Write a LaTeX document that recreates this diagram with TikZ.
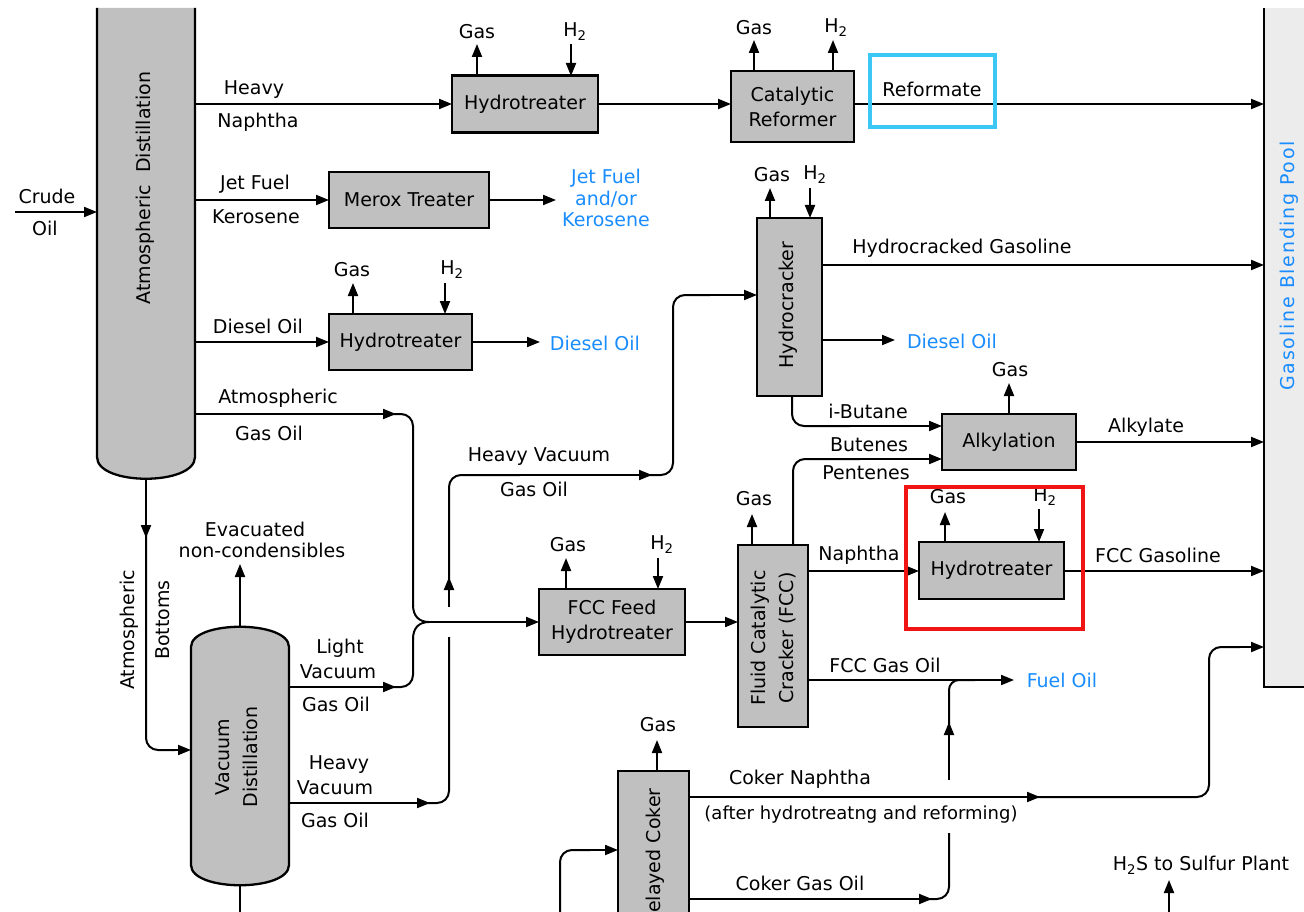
\documentclass[tikz,border=0pt]{standalone}
\usepackage{fontspec}
\setmainfont{DejaVu Sans}
\usetikzlibrary{arrows.meta}
\definecolor{boxgray}{RGB}{192,192,192}
\definecolor{poolgray}{RGB}{236,236,236}
\definecolor{prodblue}{RGB}{25,140,255}
\definecolor{hlcyan}{RGB}{60,200,245}
\definecolor{hlred}{RGB}{240,20,20}
\newcommand\diafont{\fontsize{19}{25}\selectfont}
\newcommand\bluefont{\fontsize{19}{21.5}\selectfont}
\newcommand\widefont{\fontsize{19}{28}\selectfont}
\begin{document}
\begin{tikzpicture}[x=1pt,y=-1pt,
  unit/.style={draw=black, fill=boxgray, line width=2.3pt, inner sep=0pt, outer sep=0pt, align=center, font=\diafont},
  flow/.style={line width=2pt},
  arr/.style={flow, -{Triangle[length=13pt,width=10pt]}},
  lbl/.style={inner sep=0pt, font=\diafont, text=black, align=center},
  prod/.style={inner sep=0pt, font=\bluefont, text=prodblue, align=center},
  hl/.style={line width=4pt}]
\useasboundingbox (0,0) rectangle (1304,912);
\clip (0,0) rectangle (1304,912);

% ---------- columns and pool ----------
\fill[boxgray] (97,8) -- (97,457) .. controls (97,486) and (195,486) .. (195,457) -- (195,8) -- cycle;
\draw[line width=2.3pt] (97,8) -- (97,457) .. controls (97,486) and (195,486) .. (195,457) -- (195,8);
\node[lbl, rotate=90] (atmtext) at (145,188) {Atmospheric\hspace{12pt}Distillation};

\draw[line width=2.3pt, fill=boxgray] (191,647) .. controls (191,620) and (289,620) .. (289,647) -- (289,865) .. controls (289,892) and (191,892) .. (191,865) -- cycle;
\node[lbl, rotate=90, font=\widefont] (vdtext) at (237,757) {Vacuum\\Distillation};

\fill[poolgray] (1264,8) rectangle (1320,687);
\draw[line width=2.3pt] (1264,8) -- (1264,687) -- (1320,687);
\node[lbl, rotate=90, text=prodblue, font=\diafont\addfontfeature{LetterSpace=9}] (pooltext) at (1289,266) {Gasoline Blending Pool};

% ---------- units ----------
\node[unit, minimum width=146pt, minimum height=57pt] (ht1) at (525,104) {Hydrotreater};
\node[unit, minimum width=123pt, minimum height=71pt] (cr) at (792.5,106.5) {Catalytic\\Reformer};
\node[unit, minimum width=160pt, minimum height=56pt] (merox) at (409,200) {Merox Treater};
\node[unit, minimum width=143pt, minimum height=56pt] (ht2) at (400.5,342) {Hydrotreater};
\node[unit, minimum width=65pt, minimum height=178pt] (hc) at (789.5,307) {};
\node[lbl, rotate=90] (hctext) at (788,305) {Hydrocracker};
\node[unit, minimum width=134pt, minimum height=56pt] (alk) at (1009,442) {Alkylation};
\node[unit, minimum width=146pt, minimum height=66pt] (feed) at (612,622) {FCC Feed\\Hydrotreater};
\node[unit, minimum width=70pt, minimum height=182pt] (fcc) at (773,636) {};
\node[lbl, rotate=90, font=\widefont] (fcctext) at (774,638) {Fluid Catalytic\\Cracker (FCC)};
\node[unit, minimum width=145pt, minimum height=57pt] (ht3) at (991.5,570.5) {Hydrotreater};
\node[unit, minimum width=71pt, minimum height=200pt] (coker) at (653.5,871) {};
\node[lbl, rotate=90] (cokertext) at (655,858) {Delayed Coker};

% ---------- crude ----------
\draw[arr] (15,212) -- (97,212);
\node[lbl] (crude) at (47,196) {Crude};
\node[lbl] (oil) at (45,228) {Oil};

% ---------- heavy naphtha line ----------
\draw[arr] (195,104) -- (ht1.west);
\node[lbl] (hvy) at (254,90) {Heavy};
\node[lbl] (nap) at (258,122) {Naphtha};
\draw[arr] (ht1.east) -- (cr.west |- ht1.east);
\draw[arr] (cr.east |- ht1.east) -- (1264,104);
\node[lbl] (reformate) at (932,89) {Reformate};
\draw[arr] (477,76) -- (477,44);
\node[lbl] (g1) at (477,32) {Gas};
\draw[arr] (571,44) -- (571,76);
\node[lbl] (h1) at (575,32) {H\textsubscript{2}};
\draw[arr] (754,71) -- (754,40);
\node[lbl] (g2) at (754,28) {Gas};
\draw[arr] (833,71) -- (833,40);
\node[lbl] (h2) at (836,28) {H\textsubscript{2}};

% ---------- jet fuel ----------
\draw[arr] (195,200) -- (merox.west);
\node[lbl] (jf) at (255,184) {Jet Fuel};
\node[lbl] (ker) at (256,217) {Kerosene};
\draw[arr] (merox.east) -- (556,200);
\node[prod] (jfp) at (606,198) {Jet Fuel\\and/or\\Kerosene};

% ---------- diesel ----------
\draw[arr] (195,342) -- (ht2.west);
\node[lbl] (dsl) at (258,326) {Diesel Oil};
\draw[arr] (ht2.east) -- (540,342);
\node[prod] (dslp) at (595,343) {Diesel Oil};
\draw[arr] (353,314) -- (353,283);
\node[lbl] (g3) at (352,270) {Gas};
\draw[arr] (445,283) -- (445,314);
\node[lbl] (h3) at (452,270) {H\textsubscript{2}};

% ---------- atmospheric gas oil and brace junction ----------
\draw[arr] (195,414) -- (396,414);
\node[lbl] (ago1) at (278,398) {Atmospheric};
\node[lbl] (ago2) at (269,433) {Gas Oil};
\draw[flow, rounded corners=12pt] (392,414) -- (413,414) -- (413,606);
\draw[flow] (413,605) .. controls (413,616) and (419,622) .. (429,622);
\draw[flow] (429,622) .. controls (419,622) and (413,628) .. (413,639);
\draw[flow, rounded corners=12pt] (413,638) -- (413,687) -- (392,687);
\draw[arr] (428,622) -- (feed.west);

% ---------- vacuum column streams ----------
\draw[arr] (240,627) -- (240,564);
\node[lbl] (ev1) at (255,529) {Evacuated};
\node[lbl] (ev2) at (262,550) {non-condensibles};
\draw[flow] (240,885) -- (240,912);

\draw[arr] (289,687) -- (396,687);
\node[lbl] (lv1) at (340,648) {Light};
\node[lbl] (lv2) at (338,672) {Vacuum};
\node[lbl] (lv3) at (336,704) {Gas Oil};

\draw[arr] (289,803) -- (430,803);
\node[lbl] (hv1) at (339,765) {Heavy};
\node[lbl] (hv2) at (335,788) {Vacuum};
\node[lbl] (hv3) at (335,820) {Gas Oil};
\draw[flow, rounded corners=12pt] (426,803) -- (449,803) -- (449,637);
\draw[arr] (449,607) -- (449,577);
\draw[flow, rounded corners=12pt] (449,580) -- (449,475) -- (520,475);
\draw[arr] (500,475) -- (652,475);
\node[lbl] (hvgo1) at (539,457) {Heavy Vacuum};
\node[lbl] (hvgo2) at (534,489) {Gas Oil};
\draw[flow, rounded corners=12pt] (648,475) -- (673,475) -- (673,295) -- (710,295);
\draw[arr] (700,295) -- (hc.west |- 0,295);

% ---------- atmospheric bottoms ----------
\draw[arr] (146,478) -- (146,538);
\draw[flow, rounded corners=12pt] (146,535) -- (146,750) -- (175,750);
\draw[arr] (165,750) -- (191,750);
\node[lbl, rotate=90] (ab1) at (129,630) {Atmospheric};
\node[lbl, rotate=90] (ab2) at (163,620) {Bottoms};

% ---------- hydrocracker ----------
\draw[arr] (770,218) -- (770,188);
\node[lbl] (g4) at (772,175) {Gas};
\draw[arr] (810,188) -- (810,218);
\node[lbl] (h4) at (815,175) {H\textsubscript{2}};
\draw[arr] (822,265) -- (1264,265);
\node[lbl] (hcg) at (962,248) {Hydrocracked Gasoline};
\draw[arr] (822,340) -- (895,340);
\node[prod] (dslp2) at (952,341) {Diesel Oil};
\draw[flow, rounded corners=12pt] (792,396) -- (792,426) -- (850,426);
\draw[arr] (840,426) -- (alk.west |- 0,426);
\node[lbl] (ibu) at (868,411) {i-Butane};

% ---------- alkylation ----------
\draw[arr] (1009,414) -- (1009,383);
\node[lbl] (g5) at (1010,370) {Gas};
\draw[arr] (alk.east) -- (1264,442);
\node[lbl] (alky) at (1146,427) {Alkylate};

% ---------- FCC feed hydrotreater and FCC ----------
\draw[arr] (566,589) -- (566,558);
\node[lbl] (g6) at (568,545) {Gas};
\draw[arr] (658,558) -- (658,589);
\node[lbl] (h6) at (662,545) {H\textsubscript{2}};
\draw[arr] (feed.east) -- (fcc.west |- feed.east);
\draw[arr] (752,545) -- (752,514);
\node[lbl] (g7) at (754,499) {Gas};
\draw[flow, rounded corners=12pt] (793,545) -- (793,459) -- (860,459);
\draw[arr] (850,459) -- (alk.west |- 0,459);
\node[lbl] (but) at (869,445) {Butenes};
\node[lbl] (pent) at (866,473) {Pentenes};

\draw[arr] (808,571) -- (ht3.west |- 0,571);
\node[lbl] (nph) at (859,555) {Naphtha};
\draw[arr] (945,542) -- (945,512);
\node[lbl] (g8) at (948,497) {Gas};
\draw[arr] (1039,509) -- (1039,542);
\node[lbl] (h8) at (1045,497) {H\textsubscript{2}};
\draw[arr] (ht3.east |- 0,571) -- (1264,571);
\node[lbl] (fccg) at (1158,555) {FCC Gasoline};

\draw[arr] (808,680) -- (1014,680);
\node[lbl] (fccgo) at (885,665) {FCC Gas Oil};
\node[prod] (fuel) at (1062,680) {Fuel Oil};

% ---------- delayed coker ----------
\draw[arr] (657,771) -- (657,740);
\node[lbl] (g9) at (658,725) {Gas};
\draw[arr] (689,797) -- (1040,797);
\draw[flow, rounded corners=12pt] (1036,797) -- (1209,797) -- (1209,647) -- (1240,647);
\draw[arr] (1230,647) -- (1264,647);
\node[lbl] (cn1) at (800,779) {Coker Naphtha};
\node[lbl, font=\fontsize{18}{22}\selectfont] (cn2) at (861,815) {(after hydrotreatng and reforming)};

\draw[arr] (689,899) -- (932,899);
\node[lbl] (cgo) at (800,883) {Coker Gas Oil};
\draw[flow, rounded corners=12pt] (928,899) -- (949,899) -- (949,833);
\draw[arr] (949,780) -- (949,722);
\draw[flow, rounded corners=10pt] (949,726) -- (949,680) -- (975,680);

\draw[flow, rounded corners=12pt] (560,912) -- (560,850) -- (590,850);
\draw[arr] (585,850) -- (coker.west |- 0,850);

\draw[arr] (1169,912) -- (1169,880);
\node[lbl] (h2s) at (1201,865) {H\textsubscript{2}S to Sulfur Plant};

% ---------- highlight frames ----------
\draw[hl, hlcyan] (870,55) rectangle (995,127);
\draw[hl, hlred] (906,487) rectangle (1083,629);
\end{tikzpicture}
\end{document}
